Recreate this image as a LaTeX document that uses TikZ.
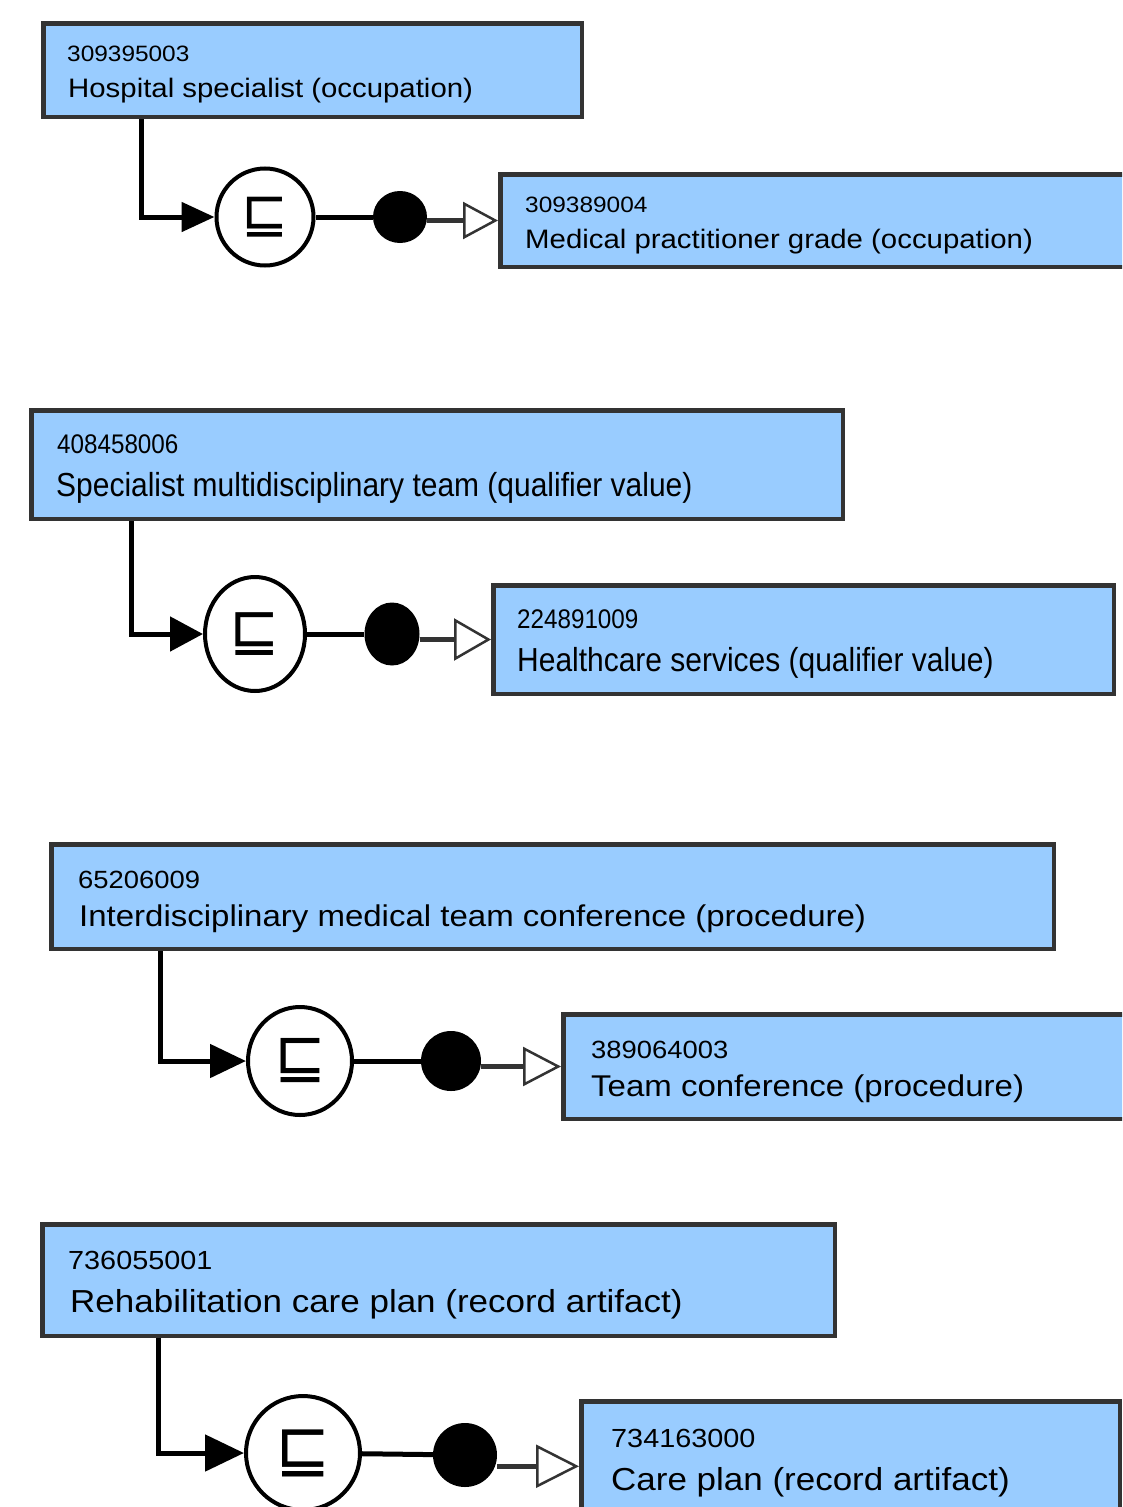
\documentclass[tikz,border=0pt]{standalone}
\usepackage{fontspec}
\setmainfont[FakeStretch=1.1]{Liberation Sans}
\newfontfamily\tallfont[FakeStretch=0.9]{Liberation Sans}
\newfontfamily\symfont{DejaVu Sans}
\usetikzlibrary{arrows.meta,positioning,calc,shapes.geometric}
\definecolor{ConceptBlue}{HTML}{99CCFF}
\definecolor{ConceptEdge}{HTML}{333333}
\newcommand\fsz[1]{\fontsize{#1}{#1}\selectfont}

\begin{document}
\begin{tikzpicture}[x=1pt,y=-1pt,
  concept/.style={draw=ConceptEdge,line width=4.5pt,fill=ConceptBlue,anchor=north west},
  conceptid/.style={anchor=base west,inner sep=0pt},
  subsume/.style={ellipse,draw=black,line width=4pt,fill=white,inner sep=0pt},
  roledot/.style={ellipse,fill=black,inner sep=0pt},
  link/.style={black,line width=5pt},
  attr/.style={ConceptEdge,line width=4.5pt}]
  \clip (0,0) rectangle (1122,1507);

  % 1: hospital specialist
  \node[concept,minimum width=538.5,minimum height=93.5] (hospspec) at (41,21) {};
  \node[conceptid,font=\fsz{22.2}] (hospspecid) at ($(hospspec.north west)+(26,40)$) {309395003};
  \node[conceptid,font=\fsz{26.7}] (hospspecname) at ($(hospspec.north west)+(27,76)$) {Hospital specialist (occupation)};
  \node[concept,minimum width=640,minimum height=92.5] (medpract) at (498,172) {};
  \node[conceptid,font=\fsz{22.2}] (medpractid) at ($(medpract.north west)+(27,40)$) {309389004};
  \node[conceptid,font=\fsz{26.7}] (medpractname) at ($(medpract.north west)+(27,76)$) {Medical practitioner grade (occupation)};
  \node[subsume,minimum width=97,minimum height=97,font={\symfont\fsz{56}}] (sub1) at (265,217) {⊑};
  \node[roledot,minimum width=54,minimum height=52] (dot1) at (400,217) {};
  \draw[link,-{Triangle[length=33pt,width=29pt]}] ($(hospspec.south west)+(100,0)$) |- (sub1.west);
  \draw[link] (sub1) -- (dot1);
  \draw[attr,-{Triangle[open,length=35pt,width=37pt,line width=2.5pt,fill=white]}] (dot1.east |- medpract.west) -- (medpract.west);

  % 2: specialist multidisciplinary team
  \node[concept,minimum width=811.5,minimum height=108.5] (specteam) at (29,408) {};
  \node[conceptid,font={\tallfont\fsz{26.9}}] (specteamid) at ($(specteam.north west)+(28,45)$) {408458006};
  \node[conceptid,font={\tallfont\fsz{33.3}}] (specteamname) at ($(specteam.north west)+(27,88)$) {Specialist multidisciplinary team (qualifier value)};
  \node[concept,minimum width=620.5,minimum height=108.5] (healthsvc) at (491,583) {};
  \node[conceptid,font={\tallfont\fsz{26.9}}] (healthsvcid) at ($(healthsvc.north west)+(26,45)$) {224891009};
  \node[conceptid,font={\tallfont\fsz{33.3}}] (healthsvcname) at ($(healthsvc.north west)+(26,88)$) {Healthcare services (qualifier value)};
  \node[subsume,minimum width=100,minimum height=114,font={\symfont\fsz{60}}] (sub2) at (255,634) {⊑};
  \node[roledot,minimum width=55,minimum height=63] (dot2) at (392,634) {};
  \draw[link,-{Triangle[length=33pt,width=34pt]}] ($(specteam.south west)+(102,0)$) |- (sub2.west);
  \draw[link] (sub2) -- (dot2);
  \draw[attr,-{Triangle[open,length=37pt,width=42pt,line width=2.5pt,fill=white]}] (dot2.east |- healthsvc.west) -- (healthsvc.west);

  % 3: interdisciplinary team conference
  \node[concept,minimum width=1002.5,minimum height=104.5] (mdtconf) at (49,842) {};
  \node[conceptid,font=\fsz{24.9}] (mdtconfid) at ($(mdtconf.north west)+(29,46)$) {65206009};
  \node[conceptid,font=\fsz{30}] (mdtconfname) at ($(mdtconf.north west)+(30,84)$) {Interdisciplinary medical team conference (procedure)};
  \node[concept,minimum width=580,minimum height=104.5] (teamconf) at (561,1012) {};
  \node[conceptid,font=\fsz{24.9}] (teamconfid) at ($(teamconf.north west)+(30,46)$) {389064003};
  \node[conceptid,font=\fsz{30}] (teamconfname) at ($(teamconf.north west)+(30,84)$) {Team conference (procedure)};
  \node[subsume,minimum width=104,minimum height=108,font={\symfont\fsz{62}}] (sub3) at (300,1061) {⊑};
  \node[roledot,minimum width=60,minimum height=60] (dot3) at (451,1061) {};
  \draw[link,-{Triangle[length=36pt,width=33pt]}] ($(mdtconf.south west)+(111,0)$) |- (sub3.west);
  \draw[link] (sub3) -- (dot3);
  \draw[attr,-{Triangle[open,length=38pt,width=39pt,line width=2.5pt,fill=white]}] (dot3.east |- teamconf.west) -- (teamconf.west);

  % 4: rehabilitation care plan
  \node[concept,minimum width=792.5,minimum height=111.5] (rehabplan) at (40,1222) {};
  \node[conceptid,font=\fsz{26.2}] (rehabplanid) at ($(rehabplan.north west)+(28,47)$) {736055001};
  \node[conceptid,font=\fsz{31.8}] (rehabplanname) at ($(rehabplan.north west)+(30,90)$) {Rehabilitation care plan (record artifact)};
  \node[concept,minimum width=538.5,minimum height=130] (careplan) at (579,1399) {};
  \node[conceptid,font=\fsz{26.2}] (careplanid) at ($(careplan.north west)+(32,48)$) {734163000};
  \node[conceptid,font=\fsz{31.8}] (careplanname) at ($(careplan.north west)+(32,91)$) {Care plan (record artifact)};
  \node[subsume,minimum width=114,minimum height=114,font={\symfont\fsz{66}}] (sub4) at (303,1453) {⊑};
  \node[roledot,minimum width=64,minimum height=64] (dot4) at (465,1455) {};
  \draw[link,-{Triangle[length=39pt,width=36pt]}] ($(rehabplan.south west)+(118,0)$) |- (sub4.west);
  \draw[link] (sub4) -- (dot4);
  \draw[attr,-{Triangle[open,length=43pt,width=43pt,line width=2.5pt,fill=white]}] (dot4.east |- careplan.west) -- (careplan.west);
\end{tikzpicture}
\end{document}
